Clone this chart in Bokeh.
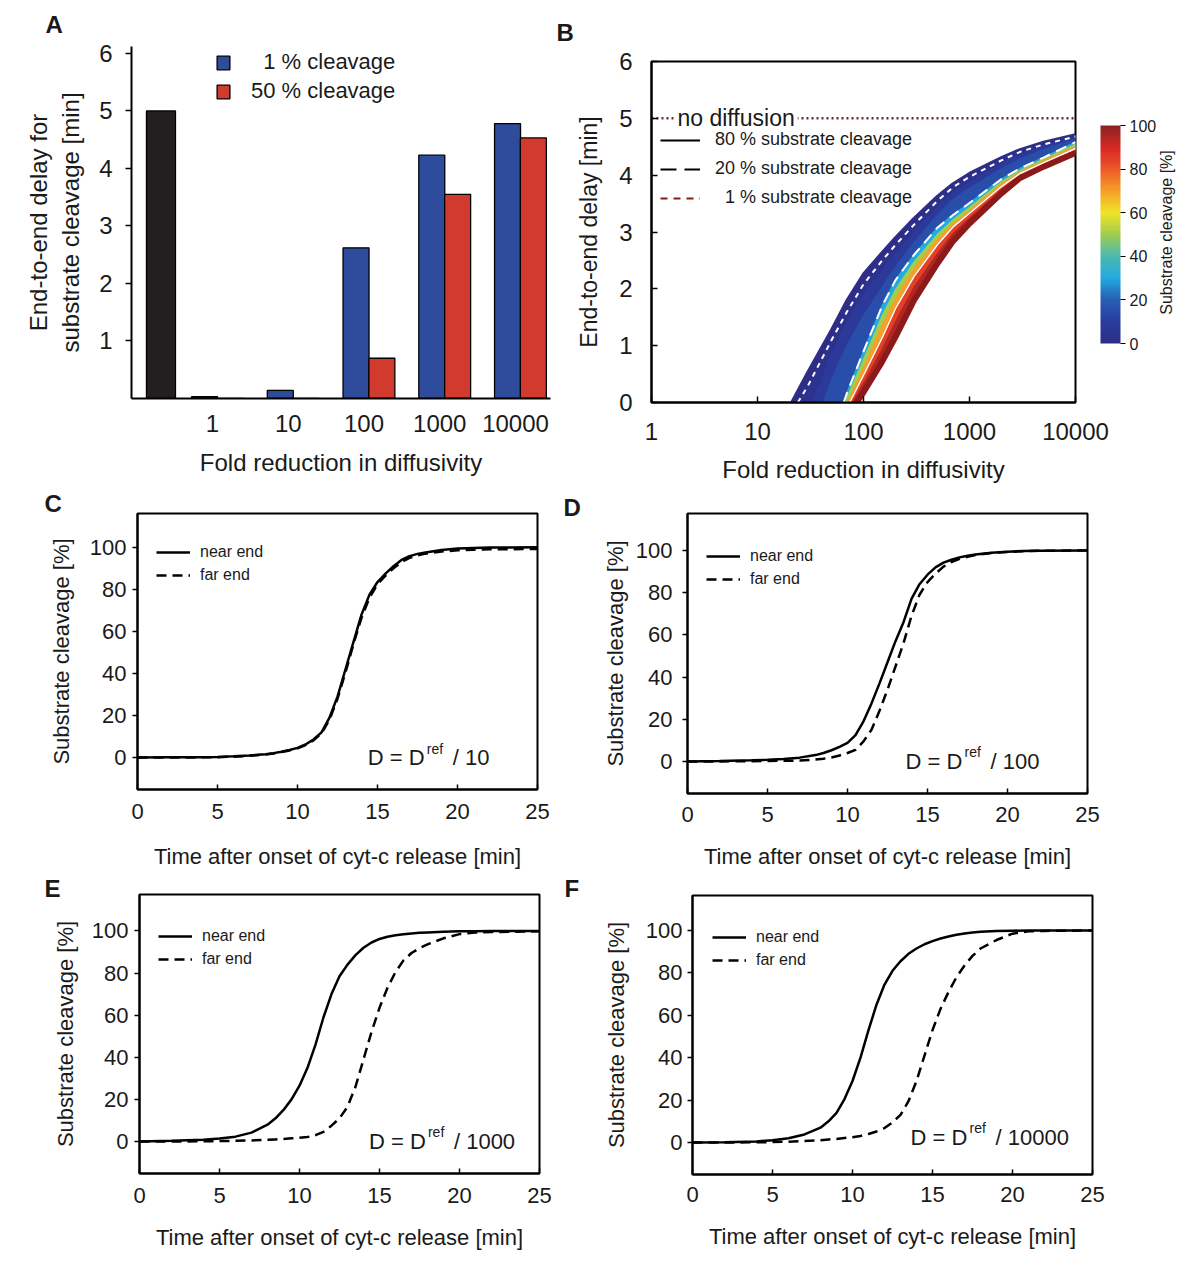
import math
from bokeh.plotting import figure
from bokeh.models import (Range1d, FixedTicker, Legend, LegendItem, Label, ColorBar,
                          LinearColorMapper, ColumnDataSource, LinearAxis)
from bokeh.layouts import row, column
from bokeh.embed import file_html
from bokeh.resources import INLINE
from bokeh.transform import dodge

FONT = "Liberation Sans"
NAN = float("nan")

# ---------------- Panel A data ----------------
fold_labels = ["1", "10", "100", "1000", "10000"]
delay_1pct_cleavage = [0.03, 0.14, 2.62, 4.23, 4.78]
delay_50pct_cleavage = [0.0, 0.0, 0.70, 3.55, 4.53]
delay_no_diffusion = 5.0
a_delay_ticks = [1, 2, 3, 4, 5, 6]

# ---------------- Panel B data ----------------
fold_ticks = [1, 10, 100, 1000, 10000]
b_delay_ticks = [0, 1, 2, 3, 4, 5, 6]
fold_grid = [30, 50, 70, 100, 150, 200, 300, 500, 700, 1000, 2000, 3000, 5000, 10000]
band_levels = [0, 1, 5, 10, 20, 40, 60, 80, 90, 100]
band_start_fold = [21, 24, 33, 42, 65, 68, 71, 74, 79, 86]
delay_lvl0 = [0.54, 1.28, 1.8, 2.26, 2.64, 2.9, 3.24, 3.63, 3.85, 4.03, 4.31, 4.45, 4.58, 4.71]
delay_lvl1 = [0.3, 1.1, 1.6, 2.08, 2.5, 2.77, 3.13, 3.55, 3.79, 3.97, 4.26, 4.41, 4.54, 4.68]
delay_lvl5 = [None, 0.85, 1.4, 1.88, 2.32, 2.61, 2.99, 3.44, 3.69, 3.88, 4.19, 4.35, 4.5, 4.66]
delay_lvl10 = [None, 0.4, 1.0, 1.52, 2.03, 2.38, 2.81, 3.3, 3.57, 3.77, 4.11, 4.28, 4.45, 4.63]
delay_lvl20 = [None, None, 0.17, 0.9, 1.7, 2.15, 2.6, 3.08, 3.3, 3.51, 3.93, 4.12, 4.31, 4.58]
delay_lvl40 = [None, None, 0.08, 0.75, 1.52, 1.98, 2.47, 2.96, 3.21, 3.43, 3.88, 4.08, 4.28, 4.54]
delay_lvl60 = [None, None, None, 0.6, 1.35, 1.82, 2.35, 2.87, 3.14, 3.37, 3.84, 4.05, 4.25, 4.5]
delay_lvl80 = [None, None, None, 0.48, 1.14, 1.65, 2.22, 2.78, 3.09, 3.33, 3.8, 4.03, 4.22, 4.47]
delay_lvl90 = [None, None, None, 0.33, 0.93, 1.41, 2.02, 2.62, 2.97, 3.24, 3.74, 3.99, 4.18, 4.43]
delay_lvl100 = [None, None, None, 0.18, 0.72, 1.15, 1.8, 2.45, 2.84, 3.15, 3.68, 3.95, 4.15, 4.39]
band_delays = [delay_lvl0, delay_lvl1, delay_lvl5, delay_lvl10, delay_lvl20,
               delay_lvl40, delay_lvl60, delay_lvl80, delay_lvl90, delay_lvl100]
colorbar_ticks = [0, 20, 40, 60, 80, 100]

# ---------------- Panels C-F data ----------------
time_ticks = [0, 5, 10, 15, 20, 25]
cleavage_ticks = [0, 20, 40, 60, 80, 100]
time_min = [0, 2, 4, 5, 6, 7, 8, 8.5, 9, 9.5, 10, 10.5, 11, 11.5, 12, 12.5, 13, 13.5, 14, 14.5,
            15, 15.5, 16, 16.5, 17, 17.5, 18, 19, 20, 21, 22, 25]
near_D10 = [0, 0.1, 0.2, 0.3, 0.6, 1.0, 1.6, 2.1, 2.8, 3.6, 4.6, 6.2, 8.6, 12, 19, 29, 42, 55, 68, 77.5,
            83.5, 87.5, 91, 94, 95.8, 96.9, 97.6, 98.7, 99.4, 99.7, 99.9, 100]
far_D10 = [0, 0, 0.1, 0.2, 0.4, 0.8, 1.4, 1.9, 2.6, 3.4, 4.4, 5.9, 8.2, 11.5, 18, 28, 40.5, 54, 66.5, 76,
           82.5, 86.5, 90, 93, 95, 96.2, 97, 98, 98.6, 98.9, 99.1, 99.2]
near_D100 = [0, 0.2, 0.5, 0.8, 1.2, 1.8, 3.0, 4.0, 5.3, 6.9, 8.8, 12.5, 19, 27.5, 37, 47, 57, 66, 77, 84,
             88.5, 92, 94.2, 95.6, 96.7, 97.5, 98.1, 98.9, 99.4, 99.7, 99.9, 100]
far_D100 = [0, 0, 0.1, 0.2, 0.3, 0.4, 0.9, 1.3, 1.9, 2.8, 4.0, 5.5, 9.5, 15, 24, 34, 45, 56, 69, 79,
            85, 89, 92.3, 94.5, 96, 97, 97.8, 98.8, 99.3, 99.6, 99.8, 100]
near_D1000 = [0, 0.3, 0.8, 1.4, 2.3, 4.2, 8, 11, 15, 20, 26.5, 35, 46, 59, 70, 78.5, 84, 88.5, 92, 94.5,
              96.2, 97.2, 97.9, 98.4, 98.8, 99.1, 99.3, 99.6, 99.8, 99.9, 100, 100]
far_D1000 = [0, 0, 0.1, 0.2, 0.3, 0.5, 0.8, 1.0, 1.2, 1.5, 1.8, 2.1, 3.0, 4.6, 7.5, 11, 16.5, 26, 39, 52,
             63.5, 73, 80.5, 86, 89.5, 91.8, 93.6, 96.5, 98.5, 99.2, 99.5, 99.8]
near_D10000 = [0, 0.1, 0.5, 1.1, 2.0, 3.8, 7, 10, 14, 20.5, 29, 40, 53, 65, 74.5, 81, 85.5, 89, 91.5, 93.5,
               95, 96.2, 97.2, 98, 98.6, 99, 99.4, 99.7, 99.9, 100, 100, 100]
far_D10000 = [0, 0, 0.1, 0.2, 0.4, 0.7, 1.1, 1.4, 1.7, 2.1, 2.5, 3.1, 4.0, 5.2, 6.8, 9.5, 13, 19.5, 29, 41,
              53, 63, 71, 78, 83.5, 88, 91.5, 95.5, 98.5, 99.6, 99.8, 100]

BLUE = "#2f4b9b"
RED = "#d23a2d"
BLACKBAR = "#231f20"
TXT = "#1a1a1a"

cmap_stops = [0, 10, 20, 30, 40, 50, 60, 70, 80, 90, 100]
cmap_colors = ["#2e2d87", "#2a3ea0", "#285fb4", "#23aae1", "#4bb9af", "#a0cd50",
               "#f0e428", "#f5a028", "#ee5a28", "#d72823", "#8c2323"]


def lerp_hex(v):
    for i in range(len(cmap_stops) - 1):
        if cmap_stops[i] <= v <= cmap_stops[i + 1]:
            t = (v - cmap_stops[i]) / (cmap_stops[i + 1] - cmap_stops[i])
            c0, c1 = cmap_colors[i], cmap_colors[i + 1]
            rgb = [round(int(c0[1 + 2 * k:3 + 2 * k], 16) * (1 - t) + int(c1[1 + 2 * k:3 + 2 * k], 16) * t)
                   for k in range(3)]
            return "#%02x%02x%02x" % tuple(rgb)
    return cmap_colors[-1]


palette101 = [lerp_hex(v) for v in range(101)]


def base_fig(w, h, mbl, mbr, mbt, mbb, xr, yr, x_axis_type="linear"):
    p = figure(width=w, height=h, x_range=xr, y_range=yr, x_axis_type=x_axis_type,
               output_backend="svg", toolbar_location=None,
               min_border_left=mbl, min_border_right=mbr, min_border_top=mbt, min_border_bottom=mbb)
    if "frame_align" in p.properties():
        p.frame_align = False
    p.xgrid.grid_line_color = None
    p.ygrid.grid_line_color = None
    p.outline_line_color = "black"
    p.outline_line_width = 2
    p.background_fill_color = "white"
    p.border_fill_color = "white"
    for ax in (p.xaxis[0], p.yaxis[0]):
        ax.axis_line_width = 2
        ax.axis_line_color = "black"
        ax.major_tick_line_width = 1.5
        ax.major_tick_line_color = "black"
        ax.minor_tick_line_color = None
        ax.major_label_text_font = FONT
        ax.axis_label_text_font = FONT
        ax.axis_label_text_font_style = "normal"
        ax.major_label_text_color = TXT
        ax.axis_label_text_color = TXT
    return p


def panel_letter(p, letter, dx, standoff):
    p.title.text = letter
    p.title.align = "left"
    p.title.offset = dx
    p.title.standoff = standoff
    p.title.text_font = FONT
    p.title.text_font_size = "24px"
    p.title.text_font_style = "bold"
    p.title.text_color = TXT


def slabel(p, fl, fb, text, px, py, size, **kw):
    kw.setdefault("text_baseline", "middle")
    lab = Label(x=px - fl, y=fb - py, x_units="screen", y_units="screen", text=text,
                text_font=FONT, text_font_size=f"{size}px", text_color=TXT, **kw)
    p.add_layout(lab)
    return lab


# ================= Panel A =================
A_FL, A_FB = 131, 398
pa = base_fig(553, 490, 131, 3, 45, 92, Range1d(-0.069, 5.462), Range1d(0, 6.12))
pa.outline_line_color = None
grp = list(range(1, len(fold_labels) + 1))
src_a = ColumnDataSource(dict(g=grp, one=delay_1pct_cleavage, fifty=delay_50pct_cleavage))
r_blue = pa.vbar(x=dodge("g", -0.105), top="one", width=0.343, source=src_a,
                 fill_color=BLUE, line_color="black", line_width=1.3)
r_red = pa.vbar(x=dodge("g", 0.236), top="fifty", width=0.343, source=src_a,
                fill_color=RED, line_color="black", line_width=1.3)
src_nd = ColumnDataSource(dict(g=[0], d=[delay_no_diffusion]))
pa.vbar(x=dodge("g", 0.32), top="d", width=0.383, source=src_nd,
        fill_color=BLACKBAR, line_color="black", line_width=1.3)

pa.xaxis.ticker = FixedTicker(ticks=grp)
pa.xaxis.major_label_overrides = {g: lab for g, lab in zip(grp, fold_labels)}
pa.xaxis.major_tick_line_color = None
pa.xaxis.major_tick_out = 0
pa.xaxis.major_label_standoff = 16
pa.xaxis.major_label_text_font_size = "24px"
pa.xaxis.axis_label = "Fold reduction in diffusivity"
pa.xaxis.axis_label_text_font_size = "24px"
pa.xaxis.axis_label_standoff = 14
pa.yaxis.ticker = FixedTicker(ticks=a_delay_ticks)
pa.yaxis.major_tick_out = 6
pa.yaxis.major_tick_in = 0
pa.yaxis.major_label_standoff = 13
pa.yaxis.major_label_text_font_size = "24px"
pa.yaxis.axis_label = "End-to-end delay for\nsubstrate cleavage [min]"
pa.yaxis.axis_label_text_font_size = "24px"
pa.yaxis.axis_label_standoff = 12

leg_a = Legend(items=[LegendItem(label="\u20071 % cleavage", renderers=[r_blue]),
                      LegendItem(label="50 % cleavage", renderers=[r_red])],
               location=(84, 294), glyph_width=16, glyph_height=17, label_standoff=20, spacing=3,
               padding=0, margin=0, border_line_color=None, background_fill_alpha=0,
               label_text_font=FONT, label_text_font_size="22px", label_text_color=TXT)
pa.add_layout(leg_a)
panel_letter(pa, "A", 45 - A_FL, 17)

# ================= Panel B =================
B_FL, B_FB = 651, 402
pb = base_fig(639, 490, 98, 117, 60, 88, Range1d(fold_ticks[0], fold_ticks[-1]),
              Range1d(b_delay_ticks[0], b_delay_ticks[-1]), x_axis_type="log")


def level_curve(i):
    xs = [band_start_fold[i]] + [f for f, d in zip(fold_grid, band_delays[i]) if d is not None]
    ys = [0.0] + [d for d in band_delays[i] if d is not None]
    return xs, ys


pxs, pys, pcol = [], [], []
for i in range(len(band_levels) - 1):
    ux, uy = level_curve(i)
    lx, ly = level_curve(i + 1)
    pxs.append(ux + lx[::-1])
    pys.append(uy + ly[::-1])
    pcol.append(lerp_hex((band_levels[i] + band_levels[i + 1]) / 2))
pb.patches(xs="xs", ys="ys", fill_color="c", line_color="c", line_width=1.5,
           source=ColumnDataSource(dict(xs=pxs, ys=pys, c=pcol)))
x0, y0 = level_curve(0)
pb.line(x0, y0, line_color=lerp_hex(0), line_width=3)
x100, y100 = level_curve(len(band_levels) - 1)
pb.line(x100, y100, line_color="#8c1a1a", line_width=6)
x1, y1 = level_curve(band_levels.index(1))
pb.line(x1, y1, line_color="white", line_width=2, line_dash="5 5")
x20, y20 = level_curve(band_levels.index(20))
pb.line(x20, y20, line_color="white", line_width=2, line_dash="11 7")
x80, y80 = level_curve(band_levels.index(80))
pb.line(x80, y80, line_color="white", line_width=1.5)

pb.line([fold_ticks[0], fold_ticks[-1]], [delay_no_diffusion, delay_no_diffusion],
        line_color="#7b2424", line_width=2.5, line_dash="2 3")
slabel(pb, B_FL, B_FB, "no diffusion", 674, 117, 23, background_fill_color="white", padding=3)

l80 = pb.line(x=[NAN, NAN], y=[NAN, NAN], line_color="black", line_width=2)
l20 = pb.line(x=[NAN, NAN], y=[NAN, NAN], line_color="black", line_width=2, line_dash="16 8")
l1 = pb.line(x=[NAN, NAN], y=[NAN, NAN], line_color="#8b1a1a", line_width=2, line_dash="7 6")
leg_b = Legend(items=[LegendItem(label="80 % substrate cleavage", renderers=[l80]),
                      LegendItem(label="20 % substrate cleavage", renderers=[l20]),
                      LegendItem(label="\u20071 % substrate cleavage", renderers=[l1])],
               location=(9, 194), glyph_width=40, glyph_height=14, label_standoff=15, spacing=8,
               padding=0, margin=0, border_line_color=None, background_fill_alpha=0,
               label_text_font=FONT, label_text_font_size="18px", label_text_color=TXT)
pb.add_layout(leg_b)

pb.xaxis.ticker = FixedTicker(ticks=fold_ticks)
pb.xaxis.major_label_overrides = {f: str(f) for f in fold_ticks}
pb.xaxis.major_tick_in = 6
pb.xaxis.major_tick_out = 0
pb.xaxis.major_label_standoff = 20
pb.xaxis.major_label_text_font_size = "24px"
pb.xaxis.axis_label = "Fold reduction in diffusivity"
pb.xaxis.axis_label_text_font_size = "24px"
pb.xaxis.axis_label_standoff = 13
pb.yaxis.ticker = FixedTicker(ticks=b_delay_ticks)
pb.yaxis.major_tick_in = 6
pb.yaxis.major_tick_out = 0
pb.yaxis.major_label_standoff = 19
pb.yaxis.major_label_text_font_size = "24px"
pb.yaxis.axis_label = "End-to-end delay [min]"
pb.yaxis.axis_label_text_font_size = "23px"
pb.yaxis.axis_label_standoff = 14

mapper = LinearColorMapper(palette=palette101, low=colorbar_ticks[0], high=colorbar_ticks[-1])
cb = ColorBar(color_mapper=mapper, location=(1100 - B_FL, B_FB - 343), width=20, height=218,
              padding=0, margin=0, ticker=FixedTicker(ticks=colorbar_ticks),
              major_label_text_font=FONT, major_label_text_font_size="16px", major_label_text_color=TXT,
              major_tick_out=5, major_tick_in=0, major_tick_line_color="black", label_standoff=4,
              bar_line_color=None, border_line_color=None, background_fill_alpha=0)
pb.add_layout(cb)

# colour-bar caption: a rotated tick label on an otherwise invisible right axis
cb_caption = "Substrate cleavage [%]"
cb_caption_start = (B_FB - 314) / 57.0   # where the bottom-to-top caption begins, in delay units
cb_axis = LinearAxis(ticker=FixedTicker(ticks=[cb_caption_start]),
                     major_label_overrides={cb_caption_start: cb_caption},
                     major_label_orientation=math.pi / 2, major_label_standoff=91,
                     axis_line_color=None, major_tick_line_color=None, minor_tick_line_color=None,
                     major_tick_in=0, major_tick_out=0,
                     major_label_text_font=FONT, major_label_text_font_size="16px",
                     major_label_text_color=TXT)
pb.add_layout(cb_axis, "right")
panel_letter(pb, "B", 556 - B_FL, 32)


# ================= Panels C-F =================
def time_panel(w, h, mbl, mbr, mbt, mbb, fl, y_lo, y_hi, near, far, divisor, dx, dy,
               leg_xy, letter, letter_x, letter_std, y_std, ylab_std, x_std, xlab_std):
    p = base_fig(w, h, mbl, mbr, mbt, mbb, Range1d(time_ticks[0], time_ticks[-1]), Range1d(y_lo, y_hi))
    src = ColumnDataSource(dict(t=time_min, near=near, far=far))
    rn = p.line("t", "near", source=src, line_color="black", line_width=2.5)
    rf = p.line("t", "far", source=src, line_color="black", line_width=2.5, line_dash="10 6")
    p.xaxis.ticker = FixedTicker(ticks=time_ticks)
    p.xaxis.major_tick_in = 5
    p.xaxis.major_tick_out = 0
    p.xaxis.major_label_standoff = x_std
    p.xaxis.major_label_text_font_size = "22px"
    p.xaxis.axis_label = "Time after onset of cyt-c release [min]"
    p.xaxis.axis_label_text_font_size = "22px"
    p.xaxis.axis_label_standoff = xlab_std
    p.yaxis.ticker = FixedTicker(ticks=cleavage_ticks)
    p.yaxis.major_tick_out = 5
    p.yaxis.major_tick_in = 0
    p.yaxis.major_label_standoff = y_std
    p.yaxis.major_label_text_font_size = "22px"
    p.yaxis.axis_label = "Substrate cleavage [%]"
    p.yaxis.axis_label_text_font_size = "22px"
    p.yaxis.axis_label_standoff = ylab_std
    leg = Legend(items=[LegendItem(label="near end", renderers=[rn]),
                        LegendItem(label="far end", renderers=[rf])],
                 location=leg_xy, glyph_width=34, glyph_height=14, label_standoff=10, spacing=5,
                 padding=0, margin=0, border_line_color=None, background_fill_alpha=0,
                 label_text_font=FONT, label_text_font_size="16px", label_text_color=TXT)
    p.add_layout(leg)
    p.add_layout(Label(x=dx, y=dy, text="D = D", text_baseline="middle", text_font=FONT,
                       text_font_size="22px", text_color=TXT))
    p.add_layout(Label(x=dx, y=dy, x_offset=59, y_offset=9, text="ref", text_baseline="middle",
                       text_font=FONT, text_font_size="14px", text_color=TXT))
    p.add_layout(Label(x=dx, y=dy, x_offset=85, text="/ " + divisor, text_baseline="middle",
                       text_font=FONT, text_font_size="22px", text_color=TXT))
    panel_letter(p, letter, letter_x - fl, letter_std)
    return p


pc = time_panel(560, 382, 137, 23, 22, 83, 137, -15.2, 116.1, near_D10, far_D10, "10",
                14.39, 0, (19, 205), "C", 44, -6, 6, 13, 14, 22)
pd = time_panel(640, 382, 127, 113, 23, 79, 687, -15.2, 117.5, near_D100, far_D100, "100",
                13.63, 0, (19, 205), "D", 563, -15, 10, 5, 13, 19)
pe = time_panel(560, 388, 139, 21, 22, 87, 139, -15.2, 117.3, near_D1000, far_D1000, "1000",
                14.34, 0, (19, 205), "E", 44, -15, 6, 11, 14, 19)
pf = time_panel(640, 388, 132, 108, 23, 86, 692, -15.1, 116.5, near_D10000, far_D10000, "10000",
                13.63, 2.4, (20, 205), "F", 564, -12, 5, 14, 12, 19)

layout = column(row(pa, pb), row(pc, pd), row(pe, pf))
open("out.html", "w").write(file_html(layout, INLINE, title="Substrate cleavage delays"))
